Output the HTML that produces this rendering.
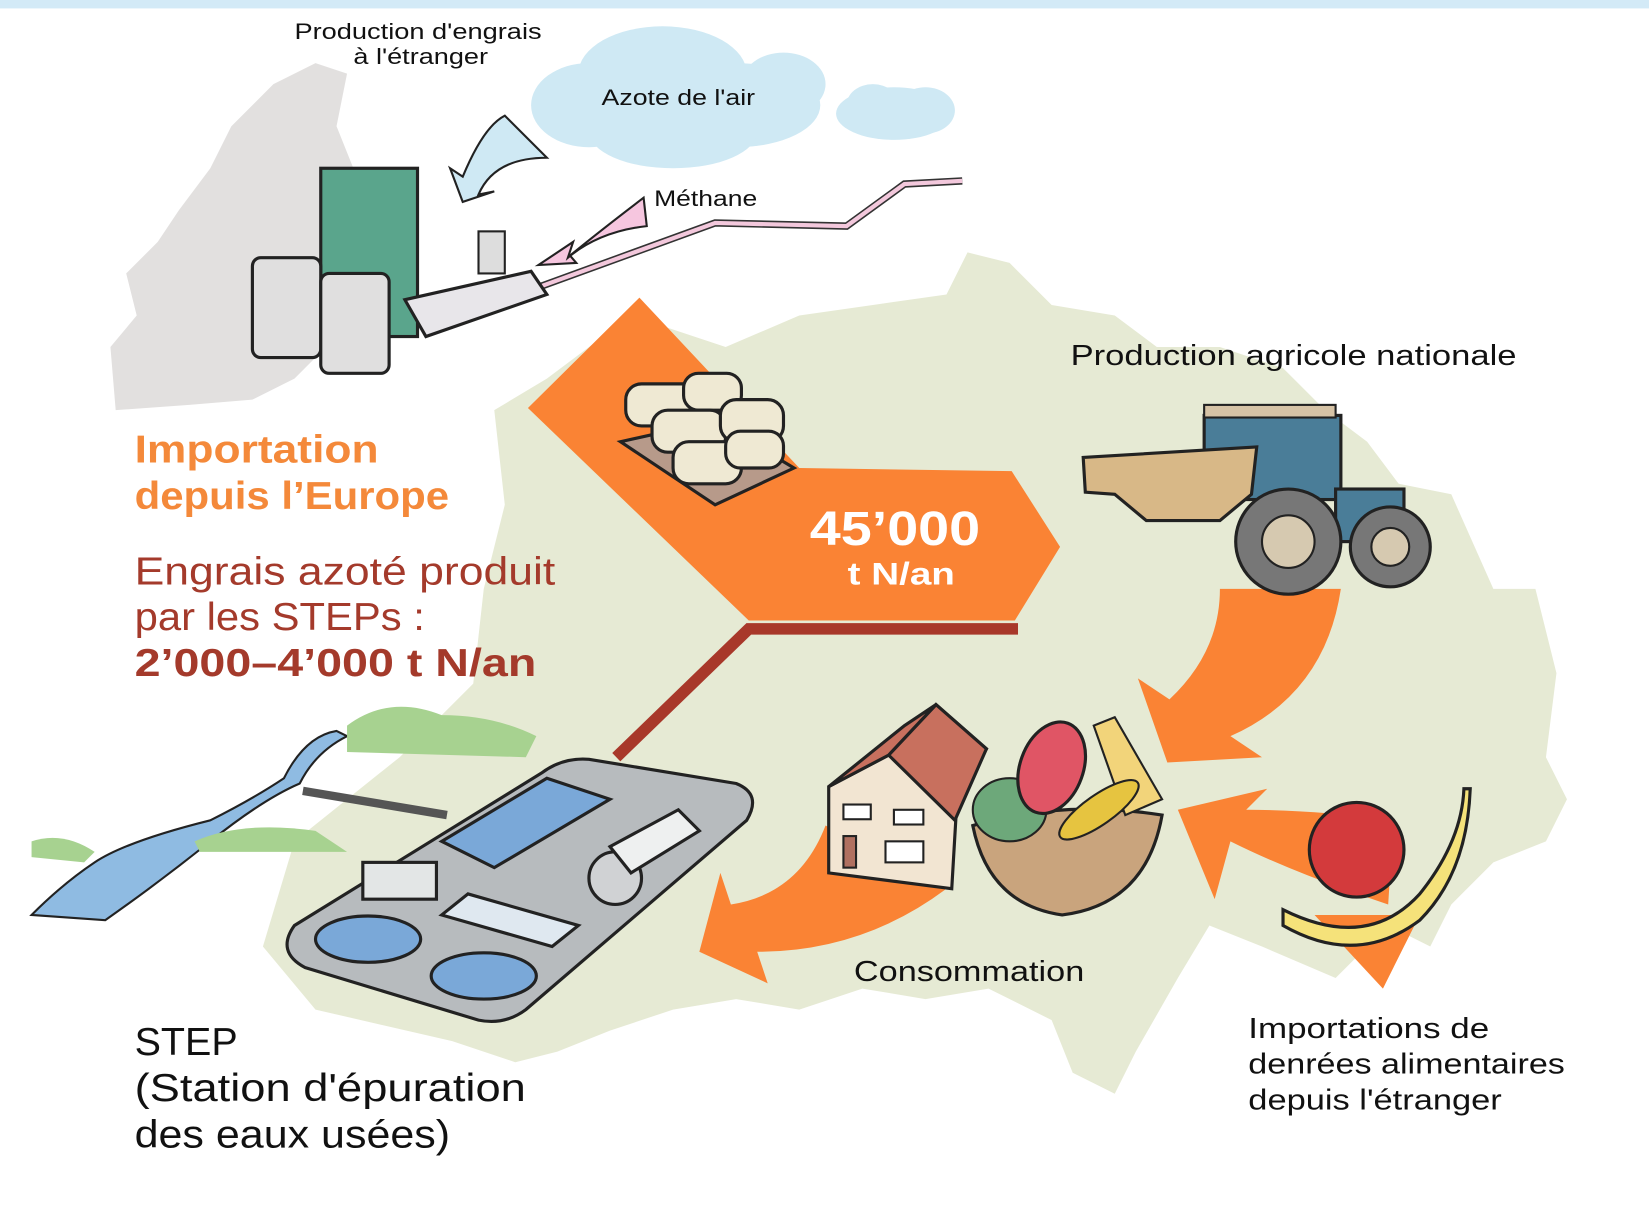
<!DOCTYPE html>
<html><head><meta charset="utf-8"><style>
html,body{margin:0;padding:0;background:#fff;width:1649px;height:1211px;overflow:hidden}
svg{display:block}
text{font-family:"Liberation Sans","DejaVu Sans",sans-serif}
</style></head><body>
<svg width="1649" height="1211" viewBox="0 0 1568 1151.5" preserveAspectRatio="none" xmlns="http://www.w3.org/2000/svg">
<rect width="1568" height="1152" fill="#fff"/>
<rect width="1568" height="8" fill="#d3eaf7"/>
<!-- Switzerland map -->
<path d="M470,390 L520,360 L600,300 L690,330 L760,300 L830,290 L900,280 L920,240 L960,250 L1000,290 L1060,300 L1100,330 L1160,330 L1220,350 L1260,390 L1300,420 L1330,460 L1380,470 L1420,560 L1460,560 L1480,640 L1470,720 L1490,760 L1470,800 L1420,820 L1380,860 L1360,900 L1320,880 L1270,930 L1200,900 L1150,880 L1120,930 L1080,1000 L1060,1040 L1020,1020 L1000,970 L940,940 L880,950 L820,940 L760,960 L700,950 L640,960 L580,980 L530,1000 L490,1010 L430,990 L300,960 L250,900 L280,800 L380,720 L450,650 L460,560 L480,480 Z" fill="#e6ead4"/>
<!-- Europe map -->
<path d="M110,390 L105,330 L130,300 L120,260 L150,230 L170,200 L200,160 L220,120 L260,80 L300,60 L330,70 L320,120 L340,170 L360,230 L330,270 L310,330 L280,360 L240,380 L180,385 Z" fill="#e2e0df"/>
<!-- clouds -->
<g fill="#cfe9f4">
<ellipse cx="560" cy="100" rx="55" ry="40"/><ellipse cx="630" cy="70" rx="80" ry="45"/><ellipse cx="700" cy="100" rx="80" ry="40"/><ellipse cx="640" cy="125" rx="80" ry="35"/><ellipse cx="745" cy="80" rx="40" ry="30"/>
<ellipse cx="850" cy="108" rx="55" ry="25"/><ellipse cx="880" cy="105" rx="28" ry="22"/><ellipse cx="830" cy="100" rx="25" ry="20"/>
</g>
<!-- arrows small -->
<path d="M520,150 Q470,150 455,185 L470,182 L440,192 L428,160 L440,168 Q460,120 480,110 Z" fill="#cfe9f4" stroke="#222" stroke-width="2"/>
<path d="M612,188 L615,215 Q570,220 540,245 L545,230 L512,252 L548,250 L542,243 Q570,220 612,188 Z" fill="#f6c6df" stroke="#222" stroke-width="2"/>
<!-- pipeline -->
<polyline points="515,272 680,212 805,215 860,175 915,172" fill="none" stroke="#333" stroke-width="7"/>
<polyline points="515,272 680,212 805,215 860,175 915,172" fill="none" stroke="#f3c8dc" stroke-width="4"/>
<!-- factory -->
<rect x="305" y="160" width="92" height="160" fill="#5aa58c" stroke="#222" stroke-width="3"/>
<rect x="455" y="220" width="25" height="40" fill="#ddd" stroke="#222" stroke-width="2"/>
<polygon points="385,285 505,258 520,280 405,320" fill="#e8e6ea" stroke="#222" stroke-width="3"/>
<rect x="240" y="245" width="65" height="95" rx="8" fill="#e0dfdf" stroke="#222" stroke-width="3"/>
<rect x="305" y="260" width="65" height="95" rx="8" fill="#e0dfdf" stroke="#222" stroke-width="3"/>
<!-- dark red line -->
<polyline points="586,720 712,598 968,598" fill="none" stroke="#a8382a" stroke-width="11"/>
<!-- big orange chevron -->
<polygon points="502,388 608,283 760,445 962,448 1008,520 965,590 712,590" fill="#fa8334"/>
<!-- sacks -->
<polygon points="590,420 680,480 755,445 680,400" fill="#b79a8a" stroke="#222" stroke-width="3"/>
<g fill="#efe9d3" stroke="#222" stroke-width="3">
<rect x="595" y="365" width="70" height="40" rx="15"/><rect x="650" y="355" width="55" height="35" rx="14"/>
<rect x="620" y="390" width="70" height="40" rx="15"/><rect x="685" y="380" width="60" height="40" rx="15"/>
<rect x="640" y="420" width="65" height="40" rx="15"/><rect x="690" y="410" width="55" height="35" rx="14"/>
</g>
<text x="770" y="518" font-size="46" font-weight="bold" fill="#fff" textLength="162" lengthAdjust="spacingAndGlyphs">45’000</text>
<text x="806" y="556" font-size="30" font-weight="bold" fill="#fff" textLength="102" lengthAdjust="spacingAndGlyphs">t N/an</text>
<!-- orange curved arrows -->
<path d="M1160,560 L1275,560 Q1260,660 1170,700 L1200,720 L1110,725 L1082,645 L1112,665 Q1160,620 1160,560 Z" fill="#fa8334"/>
<path d="M1325,780 L1320,860 Q1230,830 1170,800 L1155,855 L1120,770 L1205,750 L1185,770 Q1250,770 1325,780 Z" fill="#fa8334"/>
<path d="M1250,870 L1350,870 L1315,940 Z" fill="#fa8334"/>
<path d="M785,785 L900,845 Q820,905 720,905 L730,935 L665,905 L685,830 L695,860 Q760,850 785,785 Z" fill="#fa8334"/>
<!-- tractor -->
<rect x="1145" y="395" width="130" height="80" fill="#4a7d98" stroke="#222" stroke-width="3"/>
<rect x="1145" y="385" width="125" height="12" fill="#d6c3a6" stroke="#222" stroke-width="2"/>
<rect x="1270" y="465" width="65" height="50" fill="#4a7d98" stroke="#222" stroke-width="3"/>
<polygon points="1030,435 1195,425 1190,470 1160,495 1090,495 1060,470 1032,468" fill="#d8b887" stroke="#222" stroke-width="3"/>
<circle cx="1225" cy="515" r="50" fill="#777" stroke="#222" stroke-width="3"/><circle cx="1225" cy="515" r="25" fill="#d6c9b0" stroke="#222" stroke-width="2"/>
<circle cx="1322" cy="520" r="38" fill="#777" stroke="#222" stroke-width="3"/><circle cx="1322" cy="520" r="18" fill="#d6c9b0" stroke="#222" stroke-width="2"/>
<!-- house -->
<polygon points="788,748 845,718 890,670 938,712 910,760 905,845 788,830" fill="#f2e5d2" stroke="#222" stroke-width="3"/>
<polygon points="845,718 890,670 938,712 908,780" fill="#c8705e" stroke="#222" stroke-width="3"/>
<polygon points="788,748 845,718 890,670 860,690" fill="#c8705e" stroke="#222" stroke-width="3"/>
<rect x="802" y="765" width="26" height="14" fill="#fff" stroke="#222" stroke-width="2"/><rect x="850" y="770" width="28" height="14" fill="#fff" stroke="#222" stroke-width="2"/><rect x="842" y="800" width="36" height="20" fill="#fff" stroke="#222" stroke-width="2"/><rect x="802" y="795" width="12" height="30" fill="#b07060" stroke="#222" stroke-width="2"/>
<!-- basket -->
<path d="M925,785 Q1010,760 1105,775 Q1090,860 1010,870 Q940,860 925,785 Z" fill="#c9a47d" stroke="#222" stroke-width="3"/>
<ellipse cx="960" cy="770" rx="35" ry="30" fill="#6da87a" stroke="#222" stroke-width="2"/>
<ellipse cx="1000" cy="730" rx="30" ry="45" fill="#e05565" stroke="#222" stroke-width="3" transform="rotate(20 1000 730)"/>
<polygon points="1040,690 1060,682 1105,760 1070,775" fill="#f2d47a" stroke="#222" stroke-width="2"/>
<ellipse cx="1045" cy="770" rx="45" ry="14" fill="#e6c440" stroke="#222" stroke-width="2" transform="rotate(-35 1045 770)"/>
<!-- fruits -->
<circle cx="1290" cy="808" r="45" fill="#d33a3c" stroke="#222" stroke-width="3"/>
<path d="M1220,865 Q1300,905 1350,850 Q1390,800 1392,750 L1398,750 Q1395,830 1350,875 Q1290,920 1220,880 Z" fill="#f5e27a" stroke="#222" stroke-width="3"/>
<!-- STEP -->
<path d="M320,695 Q290,700 270,740 Q240,760 200,780 Q120,800 90,820 Q60,840 30,870 L100,875 Q150,840 200,800 Q250,760 285,745 Q300,715 330,700 Z" fill="#8fbbe2" stroke="#222" stroke-width="2"/>
<path d="M330,690 Q370,660 420,680 Q470,680 510,700 L500,720 L330,715 Z" fill="#a7d290"/>
<path d="M185,800 Q230,780 300,790 L330,810 L190,810 Z" fill="#a7d290"/>
<path d="M30,800 Q60,790 90,810 L80,820 L30,815 Z" fill="#a7d290"/>
<line x1="288" y1="752" x2="425" y2="775" stroke="#555" stroke-width="8"/>
<path d="M560,722 L700,745 Q725,755 710,780 L500,960 Q480,975 455,970 L290,920 Q262,905 280,880 L515,735 Q535,720 560,722 Z" fill="#b7bbbe" stroke="#222" stroke-width="3"/>
<ellipse cx="350" cy="893" rx="50" ry="22" fill="#7aa8d8" stroke="#222" stroke-width="3"/>
<ellipse cx="460" cy="928" rx="50" ry="22" fill="#7aa8d8" stroke="#222" stroke-width="3"/>
<polygon points="420,800 520,740 580,760 470,825" fill="#7aa8d8" stroke="#222" stroke-width="3"/>
<polygon points="420,870 445,850 550,880 525,900" fill="#dfe8f0" stroke="#222" stroke-width="3"/>
<rect x="345" y="820" width="70" height="35" fill="#e3e6e6" stroke="#222" stroke-width="3"/>
<circle cx="585" cy="835" r="25" fill="#d0d2d4" stroke="#222" stroke-width="3"/>
<polygon points="580,805 645,770 665,790 600,830" fill="#eef0f0" stroke="#222" stroke-width="3"/>
<!-- texts -->
<g fill="#111" lengthAdjust="spacingAndGlyphs">
<text x="280" y="37" font-size="21" textLength="235" lengthAdjust="spacingAndGlyphs">Production d'engrais</text>
<text x="336" y="61" font-size="21" textLength="128" lengthAdjust="spacingAndGlyphs">à l'étranger</text>
<text x="572" y="100" font-size="21" textLength="146" lengthAdjust="spacingAndGlyphs">Azote de l'air</text>
<text x="622" y="196" font-size="21" textLength="98" lengthAdjust="spacingAndGlyphs">Méthane</text>
<text x="1018" y="347" font-size="27" textLength="424" lengthAdjust="spacingAndGlyphs">Production agricole nationale</text>
<text x="812" y="933" font-size="27" textLength="219" lengthAdjust="spacingAndGlyphs">Consommation</text>
<text x="128" y="1003" font-size="37" textLength="98" lengthAdjust="spacingAndGlyphs">STEP</text>
<text x="128" y="1047" font-size="37" textLength="372" lengthAdjust="spacingAndGlyphs">(Station d'épuration</text>
<text x="128" y="1091" font-size="37" textLength="300" lengthAdjust="spacingAndGlyphs">des eaux usées)</text>
<text x="1187" y="987" font-size="27" textLength="229" lengthAdjust="spacingAndGlyphs">Importations de</text>
<text x="1187" y="1021" font-size="27" textLength="301" lengthAdjust="spacingAndGlyphs">denrées alimentaires</text>
<text x="1187" y="1055" font-size="27" textLength="241" lengthAdjust="spacingAndGlyphs">depuis l'étranger</text>
</g>
<text x="128" y="440" font-size="37" font-weight="bold" fill="#f4893a" textLength="232" lengthAdjust="spacingAndGlyphs">Importation</text>
<text x="128" y="484" font-size="37" font-weight="bold" fill="#f4893a" textLength="299" lengthAdjust="spacingAndGlyphs">depuis l’Europe</text>
<text x="128" y="556" font-size="37" fill="#a43a2b" textLength="400" lengthAdjust="spacingAndGlyphs">Engrais azoté produit</text>
<text x="128" y="599" font-size="37" fill="#a43a2b" textLength="276" lengthAdjust="spacingAndGlyphs">par les STEPs :</text>
<text x="128" y="643" font-size="37" font-weight="bold" fill="#a43a2b" textLength="382" lengthAdjust="spacingAndGlyphs">2’000–4’000 t N/an</text>
</svg>
</body></html>
